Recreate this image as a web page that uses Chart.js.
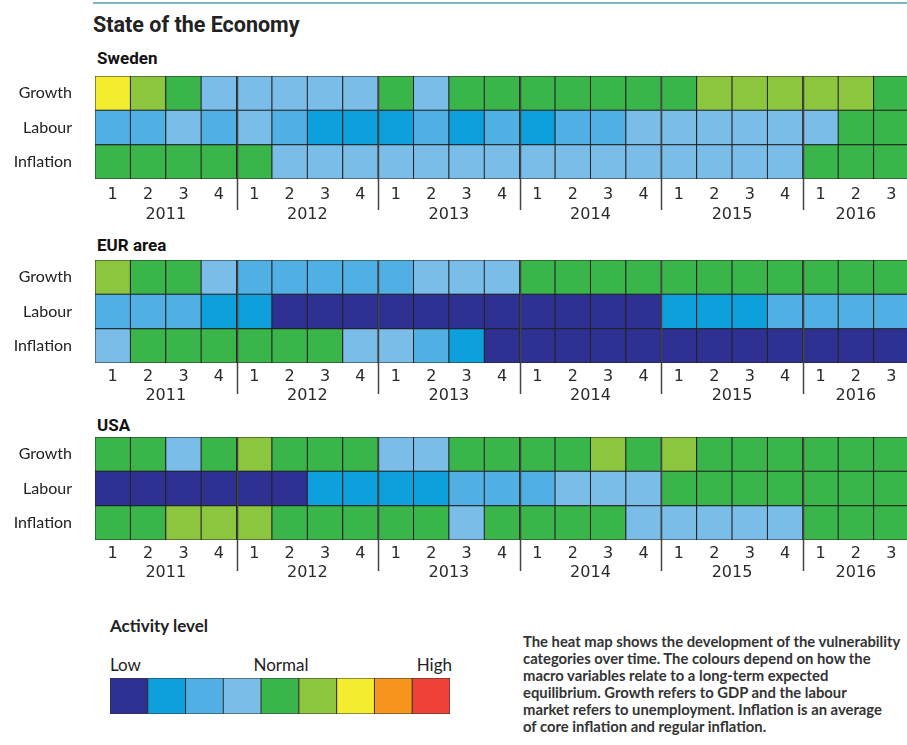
<!DOCTYPE html>
<html>
<head>
<meta charset="utf-8">
<script src="https://cdn.jsdelivr.net/npm/chart.js@4/dist/chart.umd.min.js"></script>
<style>
html,body{margin:0;padding:0;width:907px;height:745px;overflow:hidden;background:#fff;}
.abs{position:absolute;white-space:nowrap;}
#topline{position:absolute;left:93px;top:2px;width:814px;height:2px;background:#7DB4C1;}
#title{left:93px;top:12px;font:700 21.5px Roboto,sans-serif;line-height:26px;color:#222;}
.ph{left:97px;font:700 17px Roboto,sans-serif;line-height:20px;color:#111;}
canvas{position:absolute;}
#actlvl{left:110px;top:616px;font:700 17px Lato,sans-serif;line-height:20px;color:#222;}
.ll{top:655px;font:400 17px Lato,sans-serif;line-height:20px;color:#222;}
#desc{position:absolute;left:523px;top:633px;font:700 14.8px Lato,sans-serif;line-height:16.9px;color:#333;white-space:nowrap;}
</style>
</head>
<body>
<div id="topline"></div>
<div class="abs" id="title">State of the Economy</div>
<div class="abs ph" style="top:48px">Sweden</div>
<div class="abs ph" style="top:235px">EUR area</div>
<div class="abs ph" style="top:415px">USA</div>

<div style="position:absolute;left:0;top:70px;width:909px;height:163px"><canvas id="c1"></canvas></div>
<div style="position:absolute;left:0;top:254px;width:909px;height:160px"><canvas id="c2"></canvas></div>
<div style="position:absolute;left:0;top:431px;width:909px;height:160px"><canvas id="c3"></canvas></div>

<div class="abs" id="actlvl">Activity level</div>
<div class="abs ll" style="left:110px">Low</div>
<div class="abs ll" style="left:281px;transform:translateX(-50%)">Normal</div>
<div class="abs ll" style="left:452px;transform:translateX(-100%)">High</div>
<div style="position:absolute;left:100px;top:668px;width:360px;height:56px"><canvas id="leg"></canvas></div>

<div id="desc">The heat map shows the development of the vulnerability<br>categories over time. The colours depend on how the<br>macro variables relate to a long-term expected<br>equilibrium. Growth refers to GDP and the labour<br>market refers to unemployment. Inflation is an average<br>of core inflation and regular inflation.</div>

<script>
// ---- data ----
const quarters = ['1','2','3','4','1','2','3','4','1','2','3','4','1','2','3','4','1','2','3','4','1','2','3'];
const years = ['2011','2012','2013','2014','2015','2016'];
const yearPositions = [1.5, 5.5, 9.5, 13.5, 17.5, 21];
const yearBoundaries = [3.5, 7.5, 11.5, 15.5, 19.5];
const rowLabels = ['Growth','Labour','Inflation'];
const levelColors = ['#2E3192','#0EA0DC','#50B0E3','#7ABDE9','#3AB54A','#8CC63F','#F4EC2E','#F7941D','#EF4136'];
const legendLevels = [1,2,3,4,5,6,7,8,9];

const swedenGrowth    = [7,6,5,4, 4,4,4,4, 5,4,5,5, 5,5,5,5, 5,6,6,6, 6,6,5];
const swedenLabour    = [3,3,4,3, 4,3,2,2, 2,3,2,3, 2,3,3,4, 4,4,4,4, 4,5,5];
const swedenInflation = [5,5,5,5, 5,4,4,4, 4,4,4,4, 4,4,4,4, 4,4,4,4, 5,5,5];

const eurGrowth    = [6,5,5,4, 3,3,3,3, 3,4,4,4, 5,5,5,5, 5,5,5,5, 5,5,5];
const eurLabour    = [3,3,3,2, 2,1,1,1, 1,1,1,1, 1,1,1,1, 2,2,2,3, 3,3,3];
const eurInflation = [4,5,5,5, 5,5,5,4, 4,3,2,1, 1,1,1,1, 1,1,1,1, 1,1,1];

const usaGrowth    = [5,5,4,5, 6,5,5,5, 4,4,5,5, 5,5,6,5, 6,5,5,5, 5,5,5];
const usaLabour    = [1,1,1,1, 1,1,2,2, 2,2,3,3, 3,4,4,4, 5,5,5,5, 5,5,5];
const usaInflation = [5,5,6,6, 6,5,5,5, 5,5,4,5, 5,5,5,4, 4,4,4,4, 5,5,5];

// ---- drawing ----
const separatorPlugin = {
  id: 'yearSeparators',
  afterDraw(chart) {
    const sx = chart.scales.x2; const ca = chart.chartArea; const ctx = chart.ctx;
    ctx.save();
    ctx.strokeStyle = '#444'; ctx.lineWidth = 1.5;
    yearBoundaries.forEach(v => {
      const px = Math.round(sx.getPixelForValue(v)) + 0.5;
      ctx.beginPath(); ctx.moveTo(px, ca.top); ctx.lineTo(px, ca.bottom + 31); ctx.stroke();
    });
    ctx.restore();
  }
};

function rowDataset(levels, label) {
  return {
    label: label,
    data: levels.map(() => 1),
    backgroundColor: levels.map(l => levelColors[l - 1]),
    borderColor: '#222',
    borderWidth: 1,
    inflateAmount: 0.5,
    borderSkipped: false,
    barPercentage: 1,
    categoryPercentage: 1
  };
}

function makePanel(id, g, l, inf, xHeight, qPad) {
  new Chart(document.getElementById(id), {
    type: 'bar',
    data: {
      labels: quarters,
      datasets: [rowDataset(inf, 'Inflation'), rowDataset(l, 'Labour'), rowDataset(g, 'Growth')]
    },
    options: {
      responsive: true, maintainAspectRatio: false, animation: false,
      layout: { padding: { top: 6, right: 0, left: 0, bottom: 0 } },
      plugins: { legend: { display: false }, tooltip: { enabled: false } },
      scales: {
        x: {
          type: 'category', stacked: true, offset: true,
          grid: { display: false, drawTicks: false }, border: { display: false },
          ticks: { autoSkip: false, maxRotation: 0, padding: qPad, color: '#2a2a2a', font: { family: 'DejaVu Sans', size: 16 } },
          afterFit: s => { s.height = xHeight; s.paddingLeft = 0; s.paddingRight = 0; }
        },
        x2: {
          type: 'linear', position: 'bottom', min: -0.5, max: 22.5, offset: false,
          grid: { display: false, drawTicks: false }, border: { display: false },
          afterBuildTicks: s => { s.ticks = yearPositions.map(v => ({ value: v })); },
          ticks: { autoSkip: false, maxRotation: 0, padding: 0, color: '#2a2a2a', font: { family: 'DejaVu Sans', size: 16 }, callback: (v, i) => years[i] },
          afterFit: s => { s.height = 28; s.paddingLeft = 0; s.paddingRight = 0; }
        },
        y: {
          type: 'linear', stacked: true, min: 0, max: 3,
          grid: { display: false, drawTicks: false }, border: { display: false },
          afterBuildTicks: s => { s.ticks = [2.5, 1.5, 0.5].map(v => ({ value: v })); },
          ticks: { padding: 23, color: '#222', font: { family: 'Lato', size: 16 }, callback: v => rowLabels[2 - Math.floor(v)] },
          afterFit: s => { s.width = 95; s.paddingTop = 0; s.paddingBottom = 0; }
        }
      }
    },
    plugins: [separatorPlugin]
  });
}

makePanel('c1', swedenGrowth, swedenLabour, swedenInflation, 26, 6);
makePanel('c2', eurGrowth, eurLabour, eurInflation, 23, 4);
makePanel('c3', usaGrowth, usaLabour, usaInflation, 23, 4);

new Chart(document.getElementById('leg'), {
  type: 'bar',
  data: {
    labels: legendLevels.map(String),
    datasets: [{
      data: legendLevels.map(() => 1),
      backgroundColor: legendLevels.map(l => levelColors[l - 1]),
      borderColor: '#333', borderWidth: 1, inflateAmount: 0.5, borderSkipped: false,
      barPercentage: 1, categoryPercentage: 1
    }]
  },
  options: {
    responsive: true, maintainAspectRatio: false, animation: false,
    layout: { padding: { left: 10, right: 10, top: 10, bottom: 10 } },
    plugins: { legend: { display: false }, tooltip: { enabled: false } },
    scales: { x: { display: false }, y: { display: false, min: 0, max: 1 } }
  }
});
</script>
</body>
</html>
